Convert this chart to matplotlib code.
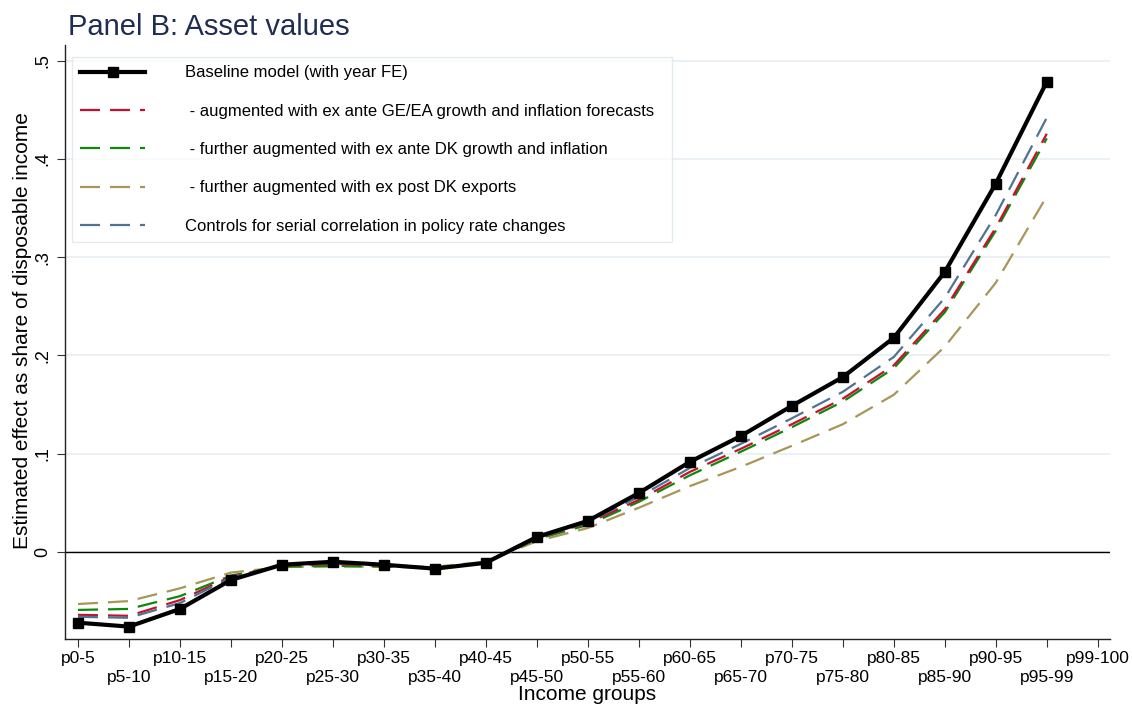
import matplotlib
matplotlib.use("Agg")
import matplotlib.pyplot as plt
import numpy as np

plt.rcParams['font.family'] = ['Liberation Sans', 'DejaVu Sans']

groups = ["p0-5", "p5-10", "p10-15", "p15-20", "p20-25", "p25-30", "p30-35", "p35-40",
          "p40-45", "p45-50", "p50-55", "p55-60", "p60-65", "p65-70", "p70-75", "p75-80",
          "p80-85", "p85-90", "p90-95", "p95-99", "p99-100"]

baseline = [-0.072, -0.076, -0.058, -0.0285, -0.013, -0.010, -0.013, -0.017, -0.011,
            0.0153, 0.0316, 0.060, 0.0917, 0.118, 0.1487, 0.178, 0.218, 0.285, 0.375, 0.4786]
ge_ea = [-0.064, -0.065, -0.049, -0.025, -0.014, -0.012, -0.014, -0.016, -0.011,
         0.014, 0.0295, 0.053, 0.0815, 0.105, 0.130, 0.156, 0.190, 0.247, 0.330, 0.4257]
dk_growth = [-0.059, -0.058, -0.045, -0.024, -0.015, -0.014, -0.015, -0.016, -0.011,
             0.013, 0.0275, 0.051, 0.078, 0.102, 0.127, 0.153, 0.187, 0.244, 0.327, 0.421]
dk_exports = [-0.053, -0.050, -0.037, -0.021, -0.0153, -0.015, -0.015, -0.015, -0.010,
              0.011, 0.0244, 0.045, 0.067, 0.0866, 0.108, 0.130, 0.160, 0.209, 0.274, 0.362]
serial = [-0.066, -0.067, -0.052, -0.026, -0.013, -0.011, -0.013, -0.016, -0.011,
          0.014, 0.0305, 0.056, 0.0855, 0.110, 0.136, 0.163, 0.1985, 0.2587, 0.343, 0.442]

labels = ["Baseline model (with year FE)",
          " - augmented with ex ante GE/EA growth and inflation forecasts  ",
          " - further augmented with ex ante DK growth and inflation",
          " - further augmented with ex post DK exports",
          "Controls for serial correlation in policy rate changes"]

yticks = [0, 0.1, 0.2, 0.3, 0.4, 0.5]
yticklabels = ["0", ".1", ".2", ".3", ".4", ".5"]

fig = plt.figure(figsize=(11.32, 7.07), dpi=100)
ax = fig.add_axes([65/1132, 1-639/707, (1110-65)/1132, (639-45)/707])

x = np.arange(len(baseline))
dash = (9, 4.5)
lw = 1.6
ax.plot(x, baseline, color='black', lw=3, marker='s', ms=7, label=labels[0], zorder=6)
ax.plot(x, ge_ea, color='#c8102e', lw=lw, dashes=dash, label=labels[1], zorder=4)
ax.plot(x, dk_growth, color='#0a8a0a', lw=lw, dashes=dash, label=labels[2], zorder=3)
ax.plot(x, dk_exports, color='#a89656', lw=lw, dashes=dash, label=labels[3], zorder=2)
ax.plot(x, serial, color='#4f7391', lw=lw, dashes=dash, label=labels[4], zorder=5)

ax.axhline(0, color='black', lw=1.0, zorder=1)

ax.set_xlim(-0.255, 20.24)
ax.set_ylim(-0.0886, 0.516)
ax.set_yticks(yticks)
ax.set_yticklabels(yticklabels, rotation=90, va='center', fontsize=13)
ax.yaxis.grid(True, color='#e8eef2', lw=1.2)
ax.set_axisbelow(True)

ax.set_xticks(range(len(groups)))
ax.set_xticklabels(groups, fontsize=12.5)
ax.tick_params(axis='x', length=6, width=0.8, color='#333333', pad=3)
ax.tick_params(axis='y', length=6, width=0.8, color='#333333', pad=4)
for i, tick in enumerate(ax.xaxis.get_major_ticks()):
    if i % 2 == 1:
        tick.set_pad(16.5)

for s in ['top', 'right']:
    ax.spines[s].set_visible(False)
for s in ['left', 'bottom']:
    ax.spines[s].set_linewidth(1.0)
    ax.spines[s].set_color('#222222')

ax.set_xlabel("Income groups", fontsize=15)
ax.xaxis.set_label_coords(0.5, (639-685)/594)
ax.set_ylabel("Estimated effect as share of disposable income", fontsize=15)
ax.yaxis.set_label_coords((32-65)/1045, (639-331)/594)

leg = ax.legend(loc='upper left', bbox_to_anchor=((72-65)/1045, (639-57)/594),
                borderaxespad=0, fontsize=12, handlelength=3.9, handletextpad=2.4,
                labelspacing=1.4, frameon=True, fancybox=False, borderpad=0.5,
                numpoints=1)
leg.get_frame().set_edgecolor('#dde7ec')
leg.get_frame().set_linewidth(1.0)

fig.text(68/1132, 1-27/707, "Panel B: Asset values", fontsize=21, color='#1f2d52',
         va='center', ha='left')

fig.savefig("out.png", dpi=100)
